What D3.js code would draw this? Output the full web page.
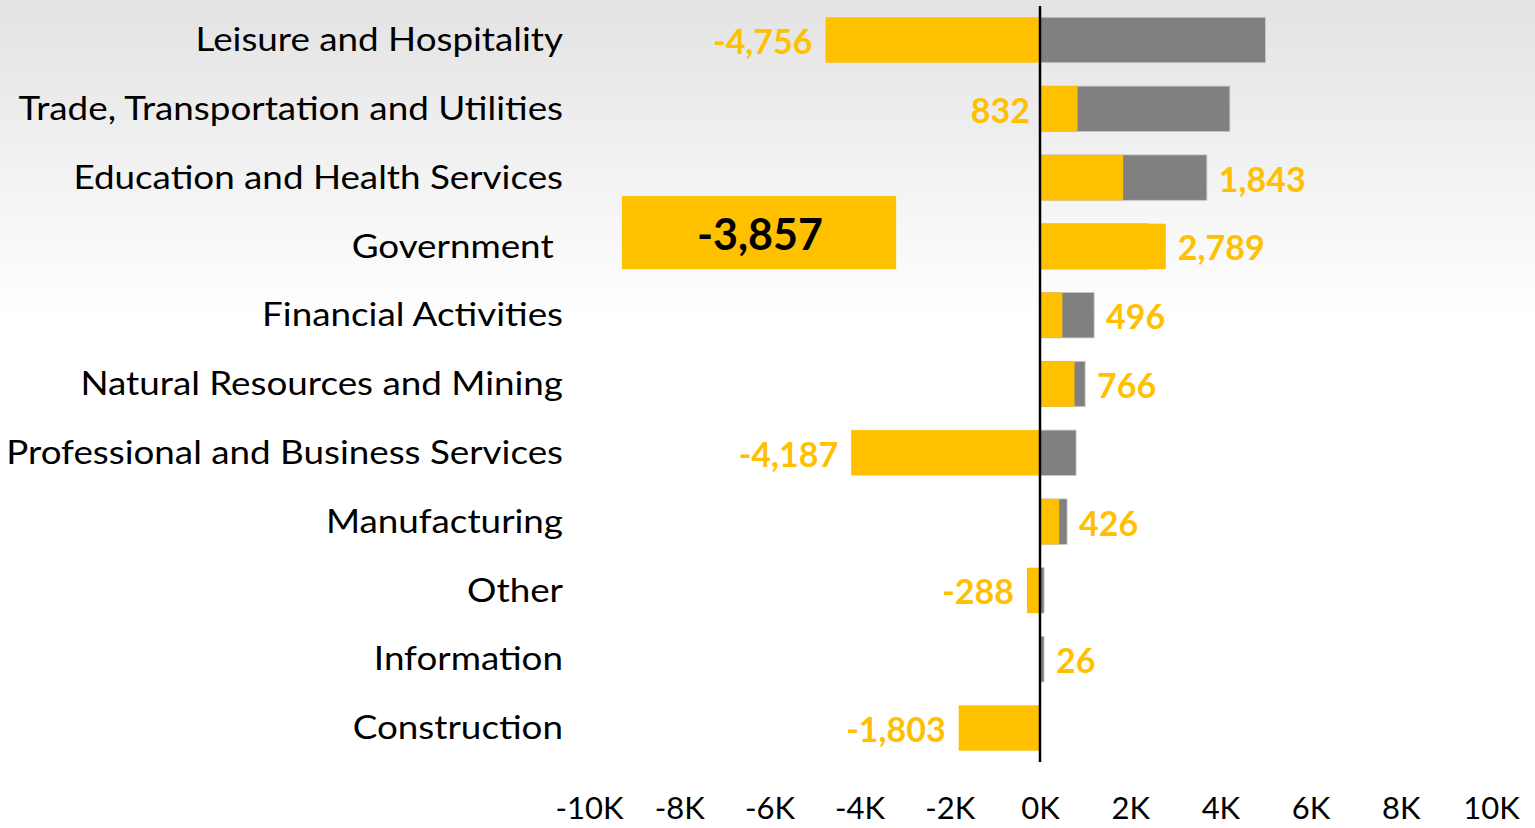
<!DOCTYPE html>
<html>
<head>
<meta charset="utf-8">
<script src="https://cdn.jsdelivr.net/npm/d3@7"></script>
<style>
  html, body { margin: 0; padding: 0; background: #fff; }
  svg { display: block; }
  text { font-family: Lato, "Open Sans", sans-serif; }
</style>
</head>
<body>
<svg id="chart" width="1535" height="828"></svg>
<script>
// Sectors, top to bottom
const categories = [
  "Leisure and Hospitality",
  "Trade, Transportation and Utilities",
  "Education and Health Services",
  "Government ",
  "Financial Activities",
  "Natural Resources and Mining",
  "Professional and Business Services",
  "Manufacturing",
  "Other",
  "Information",
  "Construction"
];
// Job change (yellow series)
const changeValues = [-4756, 832, 1843, 2789, 496, 766, -4187, 426, -288, 26, -1803];
// Comparison series (grey, drawn behind)
const compareValues = [5000, 4210, 3700, 2400, 1200, 1000, 800, 600, 90, 90, 0];
// Where each value label sits: "end" = beyond the bar end, "axis" = just left of zero line
const labelPlacement = ["end", "axis", "end", "end", "end", "end", "end", "end", "end", "end", "end"];
// Axis ticks
const tickValues = [-10000, -8000, -6000, -4000, -2000, 0, 2000, 4000, 6000, 8000, 10000];
const tickLabels = ["-10K", "-8K", "-6K", "-4K", "-2K", "0K", "2K", "4K", "6K", "8K", "10K"];
// Callout shown in the Government row
const calloutText = "-3,857";

const YELLOW = "#FFC000";
const GREY = "#808080";

const svg = d3.select("#chart");

// background fade
const defs = svg.append("defs");
const grad = defs.append("linearGradient")
  .attr("id", "bg").attr("x1", 0).attr("y1", 0).attr("x2", 0).attr("y2", 1);
grad.append("stop").attr("offset", "0").attr("stop-color", "#e3e3e3");
grad.append("stop").attr("offset", "1").attr("stop-color", "#ffffff");
svg.append("rect").attr("x", 0).attr("y", 0).attr("width", 1535).attr("height", 828).attr("fill", "#fff");
svg.append("rect").attr("x", 0).attr("y", 0).attr("width", 1535).attr("height", 320).attr("fill", "url(#bg)");

const x = d3.scaleLinear().domain([-10000, 10000]).range([589, 1491]);
const y = d3.scaleBand().domain(categories).range([5.6, 762.4])
  .paddingInner(0.34).paddingOuter(0.17);

const rows = categories.map((c, i) => ({
  cat: c, change: changeValues[i], compare: compareValues[i], place: labelPlacement[i]
}));

// grey comparison bars
svg.append("g").selectAll("rect").data(rows).join("rect")
  .attr("x", d => x(Math.min(0, d.compare)))
  .attr("y", d => y(d.cat))
  .attr("width", d => Math.abs(x(d.compare) - x(0)))
  .attr("height", y.bandwidth())
  .attr("fill", GREY)
  .attr("stroke", d => d.compare ? "#c8c8c8" : "none")
  .attr("stroke-width", 0.8);

// yellow change bars
svg.append("g").selectAll("rect").data(rows).join("rect")
  .attr("x", d => x(Math.min(0, d.change)))
  .attr("y", d => y(d.cat))
  .attr("width", d => Math.abs(x(d.change) - x(0)))
  .attr("height", y.bandwidth())
  .attr("fill", YELLOW);

// value labels (plain hyphen for negatives)
const fmt = d3.formatLocale({ decimal: ".", thousands: ",", grouping: [3], currency: ["", ""], minus: "-" }).format(",");
svg.append("g").selectAll("text").data(rows).join("text")
  .attr("x", d => {
    if (d.place === "axis") return x(0) - 10;
    if (d.change < 0) return x(d.change) - 13;
    return x(Math.max(d.change, d.compare)) + 12;
  })
  .attr("y", d => y(d.cat) + y.bandwidth() / 2 + 2)
  .attr("dy", "0.35em")
  .attr("text-anchor", d => (d.place === "axis" || d.change < 0) ? "end" : "start")
  .attr("font-weight", "bold")
  .attr("font-size", 34)
  .attr("fill", YELLOW)
  .text(d => fmt(d.change));

// category labels, right-aligned at the gutter and slightly widened
const catG = svg.append("g").attr("transform", "translate(563,0) scale(1.15,1)");
catG.selectAll("text").data(rows).join("text")
  .attr("x", 0)
  .attr("y", d => y(d.cat) + y.bandwidth() / 2)
  .attr("dy", "0.35em")
  .attr("text-anchor", "end")
  .attr("font-size", 32)
  .attr("fill", "#000")
  .style("white-space", "pre")
  .text(d => d.cat);

// zero line
svg.append("line")
  .attr("x1", x(0)).attr("x2", x(0))
  .attr("y1", 6).attr("y2", 762)
  .attr("stroke", "#000").attr("stroke-width", 2.5);

// bottom axis labels
const axis = d3.axisBottom(x).tickValues(tickValues)
  .tickFormat((d, i) => tickLabels[i]).tickSize(0).tickPadding(0);
const axG = svg.append("g").attr("transform", "translate(0,797)").call(axis);
axG.select(".domain").remove();
axG.selectAll("text")
  .attr("font-family", "Lato, sans-serif")
  .attr("font-size", 31)
  .attr("fill", "#000");

// Government callout box
const gRow = "Government ";
const boxTop = y(gRow) + y.bandwidth() - 73;
svg.append("rect")
  .attr("x", x(-9270)).attr("y", boxTop)
  .attr("width", x(-3190) - x(-9270)).attr("height", 73)
  .attr("fill", YELLOW);
svg.append("text")
  .attr("x", (x(-9270) + x(-3190)) / 2 + 1)
  .attr("y", boxTop + 73 / 2 + 2)
  .attr("dy", "0.35em")
  .attr("text-anchor", "middle")
  .attr("font-weight", "bold")
  .attr("font-size", 43)
  .attr("fill", "#000")
  .text(calloutText);
</script>
</body>
</html>
